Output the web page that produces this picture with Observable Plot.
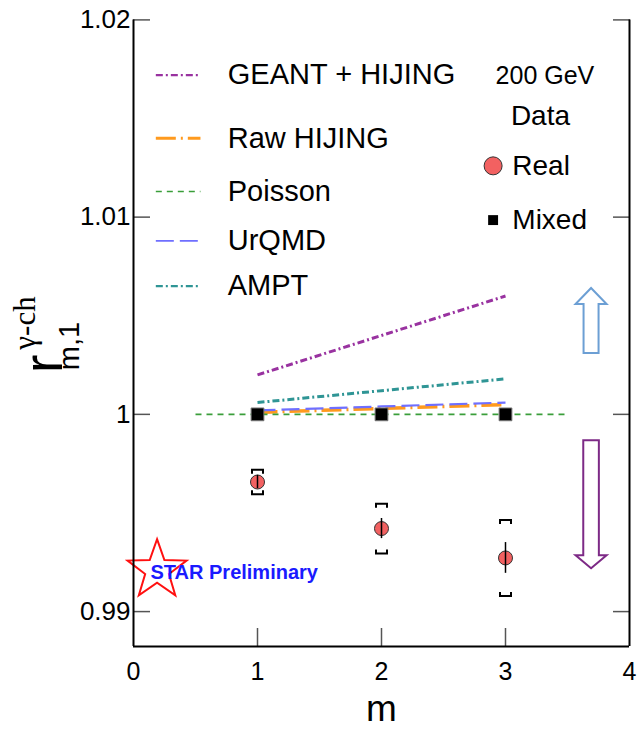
<!DOCTYPE html>
<html><head><meta charset="utf-8">
<script src="https://cdn.jsdelivr.net/npm/d3@7"></script>
<script src="https://cdn.jsdelivr.net/npm/@observablehq/plot@0.6"></script>
<style>body{margin:0;background:#fff;} #chart svg{display:block}</style>
</head><body><div id="chart"></div>
<script>
const FONT = "'Liberation Sans', Arial, Helvetica, sans-serif";
const SERIF = "'Liberation Serif', 'Times New Roman', serif";

// ---- data ----
const mValues = [1, 2, 3];
const realR = [0.99657, 0.99421, 0.99272];
const realStat = [0.00034, 0.00051, 0.00078];
const realSys = [0.00062, 0.00126, 0.00193];
const mixedR = [1.0, 1.0, 1.0];
const geantHijing = [1.0020, 1.0040, 1.0060];
const rawHijing = [1.0001, 1.0003, 1.0005];
const urqmd = [1.0002, 1.0004, 1.0006];
const ampt = [1.0006, 1.0012, 1.0018];
const poissonM = [0.5, 3.5];
const poissonR = [1.0, 1.0];

// ---- axes ----
const xDomain = [0, 4];
const yDomain = [0.98823, 1.02];
const xTicks = [0, 1, 2, 3, 4];
const xTickMarks = [1, 2, 3];
const yTicks = [0.99, 1, 1.01, 1.02];
const yTickLabels = ["0.99", "1", "1.01", "1.02"];

// ---- legend / annotations (data coordinates) ----
const legendNames = ["GEANT + HIJING", "Raw HIJING", "Poisson", "UrQMD", "AMPT"];
const legendRowR = [1.0172, 1.0140, 1.0113, 1.0088, 1.0065];
const legendSampleM = [0.18, 0.54];
const legendTextM = 0.76;
const dataLegendTitles = ["200 GeV", "Data"];
const dataLegendTitleM = [3.318, 3.282];
const dataLegendTitleR = [1.01717, 1.01515];
const dataLegendNames = ["Real", "Mixed"];
const dataLegendR = [1.01260, 1.00985];
const dataLegendMarkerM = 2.9;
const dataLegendTextM = 3.055;
const starPos = {m: 0.19, r: 0.9921};
const starText = "STAR Preliminary";
const starTextPos = {m: 0.137, r: 0.9920};
const arrowM = 3.69;
const arrowUpR = 1.00476;
const arrowDownR = 0.99544;

// ---- styles ----
const modelStyles = [
  {name: "GEANT + HIJING", values: geantHijing, color: "#9932a0", dash: "7,3,2,3", width: 3},
  {name: "Raw HIJING", values: rawHijing, color: "#ff9a1e", dash: "20,5,2,5", width: 3.5},
  {name: "Poisson", values: null, color: "#3a9e3a", dash: "6,5", width: 1.8},
  {name: "UrQMD", values: urqmd, color: "#6f6fff", dash: "18,6", width: 2.2},
  {name: "AMPT", values: ampt, color: "#2f9595", dash: "7,3,2,3", width: 3}
];

// ---- custom symbols (pixel shapes) ----
const bracketTop = {draw(ctx) { ctx.moveTo(-5.5, 4); ctx.lineTo(-5.5, 0); ctx.lineTo(5.5, 0); ctx.lineTo(5.5, 4); }};
const bracketBottom = {draw(ctx) { ctx.moveTo(-5.5, -4); ctx.lineTo(-5.5, 0); ctx.lineTo(5.5, 0); ctx.lineTo(5.5, -4); }};
function arrowSymbol(len, headH, headW, shaftW, up) {
  const s = up ? 1 : -1, h = len / 2;
  return {draw(ctx) {
    ctx.moveTo(0, -s * h);
    ctx.lineTo(headW, -s * (h - headH));
    ctx.lineTo(shaftW, -s * (h - headH));
    ctx.lineTo(shaftW, s * h);
    ctx.lineTo(-shaftW, s * h);
    ctx.lineTo(-shaftW, -s * (h - headH));
    ctx.lineTo(-headW, -s * (h - headH));
    ctx.closePath();
  }};
}
const starSymbol = {draw(ctx) {
  const R = 31, r0 = 12.5;
  for (let i = 0; i < 10; i++) {
    const a = -Math.PI / 2 + i * Math.PI / 5, rr = i % 2 ? r0 : R;
    const x = rr * Math.cos(a), y = rr * Math.sin(a);
    if (i === 0) ctx.moveTo(x, y); else ctx.lineTo(x, y);
  }
  ctx.closePath();
}};

// ---- tables ----
const real = mValues.map((m, i) => ({m, r: realR[i], lo: realR[i] - realStat[i], hi: realR[i] + realStat[i],
  sysLo: realR[i] - realSys[i], sysHi: realR[i] + realSys[i]}));
const mixed = mValues.map((m, i) => ({m, r: mixedR[i]}));
const legendRows = legendNames.map((name, i) => ({name, r: legendRowR[i], style: modelStyles[i]}));

const marks = [];
// model lines
for (const st of modelStyles) {
  const data = st.values ? mValues.map((m, i) => ({m, r: st.values[i]})) : poissonM.map((m, i) => ({m, r: poissonR[i]}));
  marks.push(Plot.line(data, {x: "m", y: "r", stroke: st.color, strokeWidth: st.width, strokeDasharray: st.dash, strokeLinecap: "butt"}));
}
// legend samples + names
for (const row of legendRows) {
  marks.push(Plot.link([row], {x1: legendSampleM[0], x2: legendSampleM[1], y1: "r", y2: "r",
    stroke: row.style.color, strokeWidth: row.style.width * 0.8, strokeDasharray: row.style.dash}));
}
marks.push(Plot.text(legendRows, {x: legendTextM, y: "r", text: "name", textAnchor: "start", fontSize: 29, fill: "#000"}));
// data legend
marks.push(Plot.text(dataLegendTitles.map((t, i) => ({t, m: dataLegendTitleM[i], r: dataLegendTitleR[i], fs: i === 0 ? 25 : 28})),
  {x: "m", y: "r", text: "t", fontSize: d => d.fs, fill: "#000"}));
marks.push(Plot.text(dataLegendNames.map((t, i) => ({t, r: dataLegendR[i]})), {x: dataLegendTextM, y: "r", text: "t", textAnchor: "start", fontSize: 28, fill: "#000"}));
marks.push(Plot.dot([{r: dataLegendR[0]}], {x: dataLegendMarkerM, y: "r", r: 9, fill: "#f26161", stroke: "#333", strokeWidth: 1}));
marks.push(Plot.dot([{r: dataLegendR[1]}], {x: dataLegendMarkerM, y: "r", r: 5.6, symbol: "square", fill: "#000"}));
// mixed
marks.push(Plot.dot(mixed, {x: "m", y: "r", r: 7.2, symbol: "square", fill: "#000", stroke: "#777", strokeWidth: 1}));
// real: systematic brackets, points, stat bars
marks.push(Plot.dot(real, {x: "m", y: "sysHi", r: 5, symbol: bracketTop, fill: "none", stroke: "#000", strokeWidth: 2}));
marks.push(Plot.dot(real, {x: "m", y: "sysLo", r: 5, symbol: bracketBottom, fill: "none", stroke: "#000", strokeWidth: 2}));
marks.push(Plot.dot(real, {x: "m", y: "r", r: 7, fill: "#f26161", stroke: "#333", strokeWidth: 1}));
marks.push(Plot.ruleX(real, {x: "m", y1: "lo", y2: "hi", stroke: "#000", strokeWidth: 1.5}));
// STAR logo
marks.push(Plot.dot([starPos], {x: "m", y: "r", r: 10, symbol: starSymbol, fill: "white", stroke: "#ff1010", strokeWidth: 2}));
marks.push(Plot.text([starTextPos], {x: "m", y: "r", text: () => starText, textAnchor: "start", fontSize: 20, fontWeight: "bold", fill: "#1a1aff"}));
// arrows
marks.push(Plot.dot([{m: arrowM, r: arrowUpR}], {x: "m", y: "r", r: 10, symbol: arrowSymbol(65, 16, 15.5, 7.5, true),
  fill: "white", stroke: "#6c9fd4", strokeWidth: 2, ariaLabel: "arrow-up"}));
marks.push(Plot.dot([{m: arrowM, r: arrowDownR}], {x: "m", y: "r", r: 10, symbol: arrowSymbol(128, 13, 15.5, 7.8, false),
  fill: "white", stroke: "#7d2a86", strokeWidth: 2, ariaLabel: "arrow-down"}));
// axes: inward ticks
marks.push(Plot.axisY(yTicks, {anchor: "left", tickSize: 17, dx: 17, fill: "none", stroke: "#555", strokeWidth: 1.5, label: null}));
marks.push(Plot.axisY(yTicks, {anchor: "right", tickSize: 17, dx: -17, fill: "none", stroke: "#555", strokeWidth: 1.5, label: null}));
marks.push(Plot.axisX(xTickMarks, {anchor: "bottom", tickSize: 18, dy: -18, fill: "none", stroke: "#555", strokeWidth: 1.5, label: null}));
// axes: labels
marks.push(Plot.axisY(yTicks, {anchor: "left", tickSize: 0, tickPadding: 3, fontSize: 26, fill: "#000",
  tickFormat: d => yTickLabels[yTicks.indexOf(d)], label: null}));
marks.push(Plot.axisX(xTicks, {anchor: "bottom", tickSize: 0, tickPadding: 16, fontSize: 25, fill: "#000", tickFormat: d => String(d), label: null}));
// frame (left, right, bottom)
marks.push(Plot.ruleX(xDomain, {stroke: "#000", strokeWidth: 2}));
marks.push(Plot.ruleY([yDomain[0]], {stroke: "#000", strokeWidth: 2}));
// x label
marks.push(Plot.text(["m"], {frameAnchor: "bottom", dy: 74, text: d => d, fontSize: 37, fill: "#000"}));

const svg = Plot.plot({
  width: 637, height: 730,
  marginLeft: 133, marginRight: 8, marginTop: 19.4, marginBottom: 84,
  x: {domain: xDomain, axis: null},
  y: {domain: yDomain, axis: null},
  style: {fontFamily: FONT, background: "white", color: "#000"},
  marks
});

// y-axis label r^{γ-ch}_{m,1}
const g = d3.select(svg).append("g").attr("transform", "translate(62,364) rotate(-90)").attr("fill", "#000");
g.append("text").attr("x", 0).attr("y", 0).attr("font-family", FONT).attr("font-size", 56).text("r");
g.append("text").attr("x", 18).attr("y", 17).attr("font-family", FONT).attr("font-size", 29).text("m,1");
g.append("text").attr("x", 41).attr("y", -27).attr("font-family", SERIF).attr("font-size", 31).text("γ-ch");

d3.select(svg).selectAll('g[aria-label="arrow-up"], g[aria-label="arrow-down"]')
  .style("filter", "drop-shadow(3px 4px 3px rgba(0,0,0,0.25))");

document.getElementById("chart").appendChild(svg);
</script></body></html>
